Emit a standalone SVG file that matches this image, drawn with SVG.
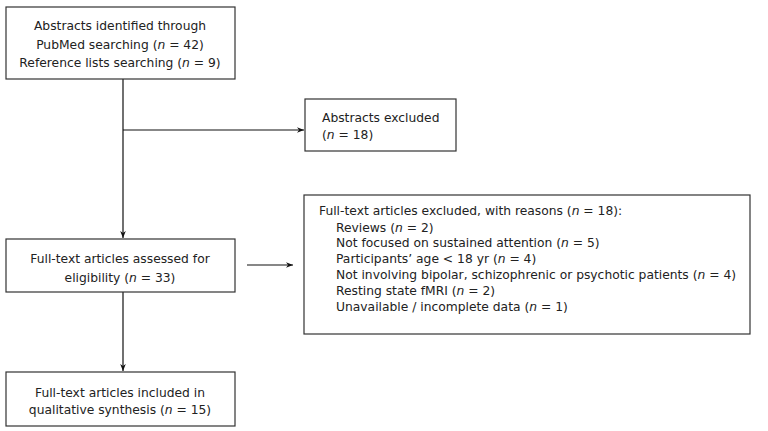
<svg xmlns="http://www.w3.org/2000/svg" width="768" height="431" viewBox="0 0 768 431">
<defs>
<style>
.box{fill:#fff;stroke:#333;stroke-width:1.2}
text{font-family:"DejaVu Sans",sans-serif;font-size:12.3px;fill:#222}
.c{text-anchor:middle}
.i{font-style:italic}
.ln{stroke:#111;stroke-width:1.2;fill:none}
</style>
<marker id="ah" viewBox="0 0 10 10" refX="10" refY="5" markerWidth="7" markerHeight="7" orient="auto" markerUnits="userSpaceOnUse"><path d="M0,1 L10,5 L0,9 L3,5 Z" fill="#111"/></marker>
</defs>
<rect width="768" height="431" fill="#fff"/>
<g id="connectors">
<line class="ln" x1="123" y1="79" x2="123" y2="238" marker-end="url(#ah)"/>
<line class="ln" x1="123" y1="130" x2="304" y2="130" marker-end="url(#ah)"/>
<line class="ln" x1="247" y1="265" x2="293" y2="265" marker-end="url(#ah)"/>
<line class="ln" x1="123" y1="292" x2="123" y2="371" marker-end="url(#ah)"/>
</g>
<g id="n1">
<rect class="box" x="6" y="7" width="229" height="72"/>
<text class="c" x="120" y="30">Abstracts identified through</text>
<text class="c" x="120" y="49">PubMed searching (<tspan class="i">n</tspan> = 42)</text>
<text class="c" x="120" y="67">Reference lists searching (<tspan class="i">n</tspan> = 9)</text>
</g>
<g id="n2">
<rect class="box" x="305" y="99" width="151" height="52"/>
<text x="322" y="122">Abstracts excluded</text>
<text x="322" y="139">(<tspan class="i">n</tspan> = 18)</text>
</g>
<g id="n3">
<rect class="box" x="6" y="239" width="229" height="53"/>
<text class="c" x="120" y="263">Full-text articles assessed for</text>
<text class="c" x="120" y="282">eligibility (<tspan class="i">n</tspan> = 33)</text>
</g>
<g id="n4">
<rect class="box" x="304" y="195" width="446" height="139"/>
<text x="319" y="215">Full-text articles excluded, with reasons (<tspan class="i">n</tspan> = 18):</text>
<text x="336" y="232">Reviews (<tspan class="i">n</tspan> = 2)</text>
<text x="336" y="247">Not focused on sustained attention (<tspan class="i">n</tspan> = 5)</text>
<text x="336" y="263">Participants’ age &lt; 18 yr (<tspan class="i">n</tspan> = 4)</text>
<text x="336" y="279">Not involving bipolar, schizophrenic or psychotic patients (<tspan class="i">n</tspan> = 4)</text>
<text x="336" y="295">Resting state fMRI (<tspan class="i">n</tspan> = 2)</text>
<text x="336" y="311">Unavailable / incomplete data (<tspan class="i">n</tspan> = 1)</text>
</g>
<g id="n5">
<rect class="box" x="6" y="372" width="229" height="54"/>
<text class="c" x="120" y="397">Full-text articles included in</text>
<text class="c" x="120" y="414">qualitative synthesis (<tspan class="i">n</tspan> = 15)</text>
</g>
</svg>
